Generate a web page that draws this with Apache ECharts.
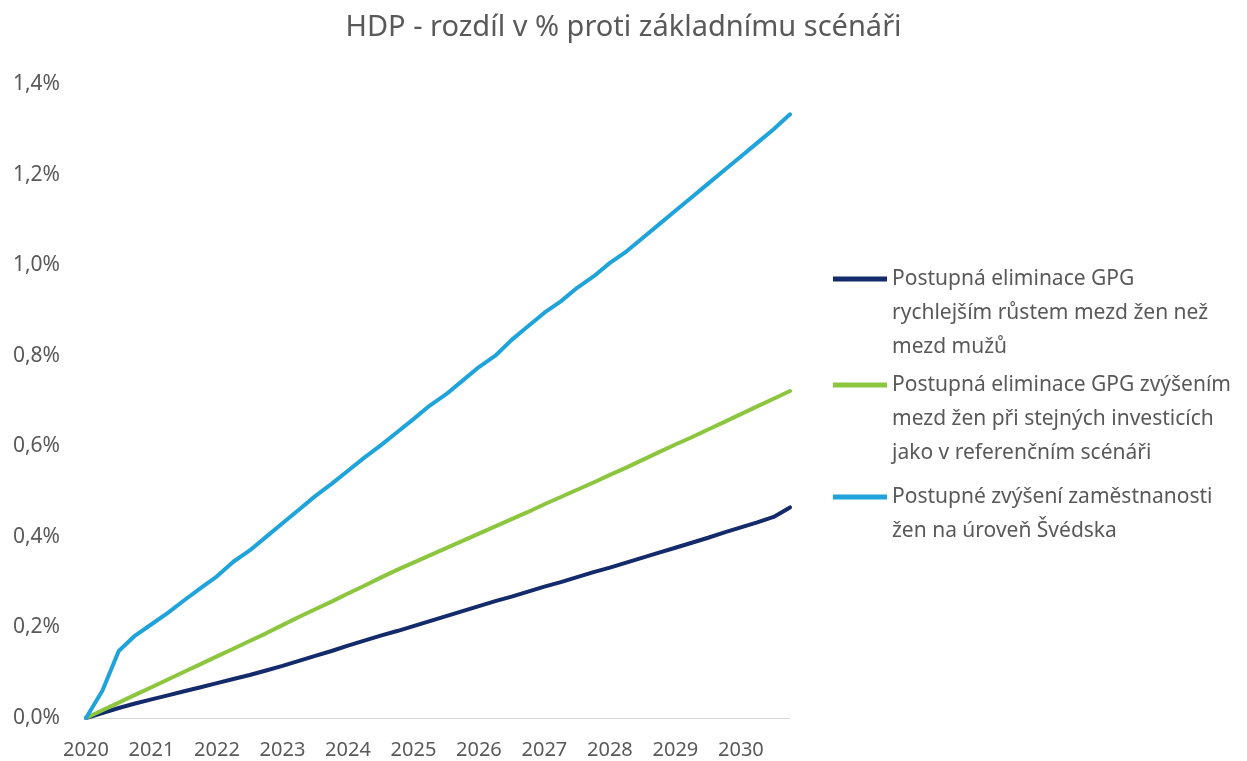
<!DOCTYPE html>
<html>
<head>
<meta charset="utf-8">
<script src="https://cdn.jsdelivr.net/npm/echarts@6/dist/echarts.min.js"></script>
<style>
  html, body { margin: 0; padding: 0; background: #fff; }
  #chart { width: 1247px; height: 761px; }
</style>
</head>
<body>
<div id="chart"></div>
<script>
const years = ['2020', '2021', '2022', '2023', '2024', '2025', '2026', '2027', '2028', '2029', '2030']
// čtvrtletí 2020 Q1 .. 2030 Q4
const quarters = years.flatMap(y => ['Q1', 'Q2', 'Q3', 'Q4'].map(q => y + ' ' + q))

const yTicks = [0, 0.2, 0.4, 0.6, 0.8, 1.0, 1.2, 1.4]

const names = [
  'Postupná eliminace GPG\nrychlejším růstem mezd žen než\nmezd mužů',
  'Postupná eliminace GPG zvýšením\nmezd žen při stejných investicích\njako v referenčním scénáři',
  'Postupné zvýšení zaměstnanosti\nžen na úroveň Švédska'
]

const mzdyRust = [
  0, 0.011, 0.022, 0.032, 0.041, 0.05, 0.059, 0.068, 0.077, 0.086, 0.095,
  0.105, 0.115, 0.126, 0.137, 0.148, 0.16, 0.171, 0.182, 0.192, 0.203,
  0.214, 0.225, 0.236, 0.247, 0.258, 0.268, 0.279, 0.29, 0.3, 0.311,
  0.322, 0.332, 0.343, 0.354, 0.365, 0.376, 0.387, 0.398, 0.41, 0.421,
  0.432, 0.444, 0.465
]
const mzdyInvestice = [
  0, 0.017, 0.034, 0.051, 0.068, 0.085, 0.102, 0.119, 0.136, 0.153, 0.17,
  0.187, 0.205, 0.223, 0.24, 0.257, 0.275, 0.292, 0.31, 0.327, 0.343,
  0.359, 0.375, 0.391, 0.407, 0.423, 0.439, 0.455, 0.472, 0.488, 0.504,
  0.52, 0.537, 0.553, 0.57, 0.587, 0.604, 0.62, 0.637, 0.654, 0.671,
  0.688, 0.705, 0.722
]
const zamestnanost = [
  0, 0.06, 0.148, 0.182, 0.207, 0.232, 0.26, 0.287, 0.313, 0.345, 0.37,
  0.4, 0.43, 0.46, 0.49, 0.517, 0.546, 0.575, 0.602, 0.631, 0.66,
  0.69, 0.715, 0.745, 0.775, 0.8, 0.835, 0.865, 0.895, 0.92, 0.95,
  0.975, 1.005, 1.03, 1.06, 1.09, 1.12, 1.15, 1.18, 1.21, 1.24,
  1.27, 1.3, 1.333
]

const colors = ['#132a6b', '#8cc63e', '#1ea4da']
const font = 'Noto Sans'
const gray = '#595959'

// legenda - prazdne radky nahore, aby prvni radek textu byl u ikony
function legendFor(name, top, lines) {
  const pad = '\n'.repeat(lines - 1)
  return {
    data: [name],
    left: 828,
    top: top,
    icon: 'rect',
    itemWidth: 54,
    itemHeight: 5,
    selectedMode: false,
    formatter: (n) => pad + n,
    textStyle: {
      fontFamily: font,
      fontSize: 21,
      color: gray,
      lineHeight: 34
    }
  }
}

const option = {
  animation: false,
  title: {
    text: 'HDP - rozdíl v % proti základnímu scénáři',
    left: 'center',
    top: 8,
    padding: [5, 5, 5, 21],
    textStyle: {
      fontFamily: font,
      fontSize: 29,
      fontWeight: 'normal',
      color: gray
    }
  },
  legend: [
    legendFor(names[0], 189, 3),
    legendFor(names[1], 295, 3),
    legendFor(names[2], 441, 2)
  ],
  grid: {
    left: 86,
    right: 457,
    top: 84,
    bottom: 43
  },
  xAxis: {
    type: 'category',
    boundaryGap: false,
    data: quarters,
    axisLine: { lineStyle: { color: '#d9d9d9', width: 1 } },
    axisTick: { show: false },
    axisLabel: {
      interval: (i) => i % 4 === 0,
      formatter: (v) => v.slice(0, 4),
      margin: 22,
      fontFamily: font,
      fontSize: 20,
      color: gray
    }
  },
  yAxis: {
    type: 'value',
    min: yTicks[0],
    max: yTicks[yTicks.length - 1],
    interval: 0.2,
    axisLine: { show: false },
    axisTick: { show: false },
    splitLine: { show: false },
    axisLabel: {
      margin: 26,
      fontFamily: font,
      fontSize: 21,
      color: gray,
      formatter: (v) => v.toFixed(1).replace('.', ',') + '%'
    }
  },
  series: [
    { name: names[0], type: 'line', data: mzdyRust },
    { name: names[1], type: 'line', data: mzdyInvestice },
    { name: names[2], type: 'line', data: zamestnanost }
  ].map((s, i) => Object.assign(s, {
    showSymbol: false,
    color: colors[i],
    lineStyle: { width: 4, color: colors[i], cap: 'round' }
  }))
}

const myChart = echarts.init(document.getElementById('chart'))
myChart.setOption(option)
</script>
</body>
</html>
